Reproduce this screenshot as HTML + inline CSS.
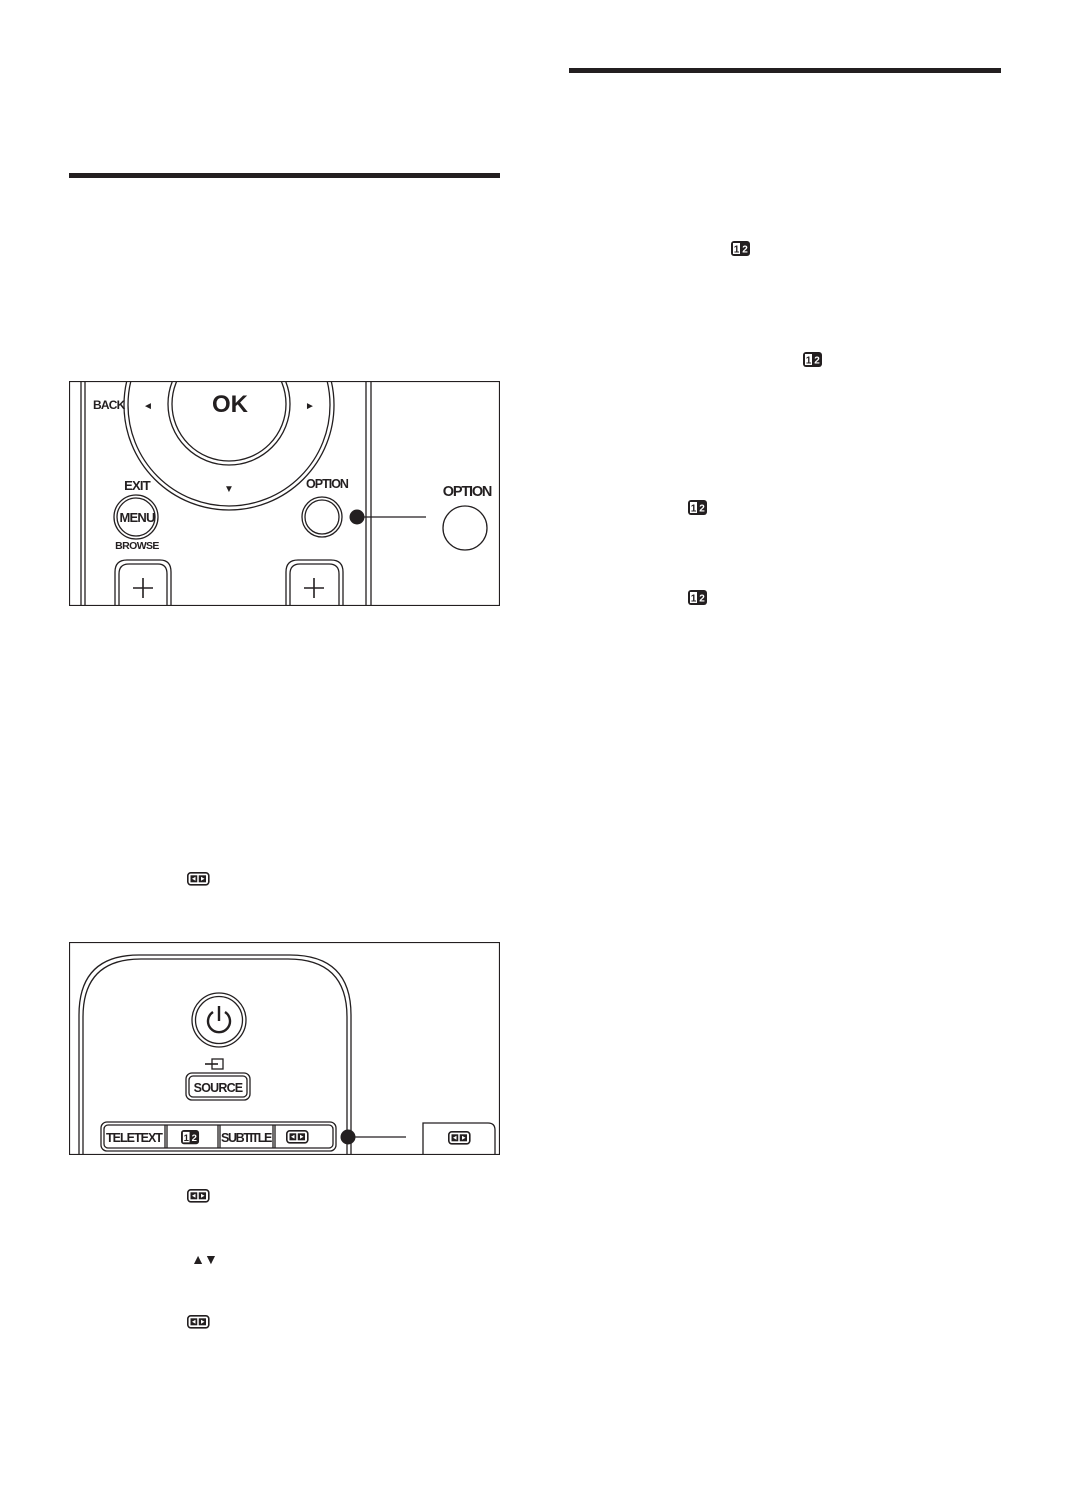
<!DOCTYPE html>
<html><head><meta charset="utf-8"><style>
html,body{margin:0;padding:0;background:#fff;}
svg{display:block;}
text{font-family:"Liberation Sans",sans-serif;fill:#231f20;}
</style></head><body>
<svg width="1068" height="1510" viewBox="0 0 1068 1510" xmlns="http://www.w3.org/2000/svg">
<defs>
<g id="i12">
<rect x="0" y="0" width="19" height="15" rx="3" fill="#231f20"/>
<rect x="2" y="2" width="7" height="11" fill="#fff"/>
<text x="5.5" y="11.5" font-size="10" text-anchor="middle" font-weight="bold">1</text>
<text x="14" y="11.5" font-size="10" text-anchor="middle" font-weight="bold" style="fill:#fff">2</text>
</g>
<g id="iw">
<rect x="0.8" y="0.8" width="21" height="12" rx="3" fill="none" stroke="#231f20" stroke-width="1.6"/>
<rect x="3.5" y="3.3" width="15.5" height="7" fill="#231f20"/>
<line x1="11" y1="3" x2="11" y2="11" stroke="#fff" stroke-width="1.5"/>
<path d="M5 6.8 L8.5 4.8 V8.8Z M17.5 6.8 L14 4.8 V8.8Z" fill="#fff"/>
</g>
</defs>

<rect x="69" y="173" width="431" height="5" fill="#231f20"/>
<rect x="569" y="68" width="432" height="5" fill="#231f20"/>

<!-- diagram 1 -->
<svg x="69" y="381" width="431" height="225" viewBox="69 381 431 225" overflow="hidden">
<g fill="none" stroke="#231f20" stroke-width="1.3">
<line x1="81" y1="381" x2="81" y2="606"/><line x1="85" y1="381" x2="85" y2="606"/>
<line x1="366" y1="381" x2="366" y2="606"/><line x1="371" y1="381" x2="371" y2="606"/>
<circle cx="229" cy="405" r="105"/><circle cx="229" cy="405" r="101"/>
<circle cx="229" cy="404" r="61"/><circle cx="229" cy="404" r="57"/>
<circle cx="136" cy="517" r="22"/><circle cx="136" cy="517" r="19"/>
<circle cx="322" cy="517" r="20"/><circle cx="322" cy="517" r="17"/>
<circle cx="465" cy="528" r="22"/>
<path d="M115 610 V572 Q115 560 127 560 H160 Q171 560 171 572 V610"/>
<path d="M119 610 V574 Q119 564 129 564 H158 Q167 564 167 574 V610"/>
<path d="M286 610 V572 Q286 560 298 560 H331 Q343 560 343 572 V610"/>
<path d="M290 610 V574 Q290 564 300 564 H329 Q339 564 339 574 V610"/>
<line x1="357" y1="517" x2="426" y2="517"/>
<line x1="133" y1="588" x2="153" y2="588" stroke-width="1.6"/>
<line x1="143" y1="578" x2="143" y2="598" stroke-width="1.6"/>
<line x1="304" y1="588" x2="324" y2="588" stroke-width="1.6"/>
<line x1="314" y1="578" x2="314" y2="598" stroke-width="1.6"/>
</g>
<rect x="69.5" y="381.5" width="430" height="224" fill="none" stroke="#231f20" stroke-width="1.2"/>
<circle cx="357" cy="517" r="7.5" fill="#231f20"/>
<text x="93" y="409" font-size="12" font-weight="bold" letter-spacing="-0.8">BACK</text>
<text x="148" y="409" font-size="10" text-anchor="middle">◄</text>
<text x="310" y="409" font-size="10" text-anchor="middle">►</text>
<text x="230" y="412" font-size="24" font-weight="bold" text-anchor="middle">OK</text>
<text x="229" y="492" font-size="10" text-anchor="middle">▼</text>
<text x="137" y="490" font-size="13" text-anchor="middle" letter-spacing="-0.8" font-weight="bold" style="font-weight:600">EXIT</text>
<text x="137" y="522" font-size="13" text-anchor="middle" font-weight="bold" letter-spacing="-0.8">MENU</text>
<text x="137" y="549" font-size="10.5" text-anchor="middle" font-weight="bold" letter-spacing="-0.6">BROWSE</text>
<text x="327" y="488" font-size="12.5" text-anchor="middle" letter-spacing="-1" font-weight="bold">OPTION</text>
<text x="467" y="496" font-size="14.5" text-anchor="middle" letter-spacing="-1.2" font-weight="bold">OPTION</text>
</svg>

<!-- diagram 2 -->
<svg x="69" y="942" width="431" height="213" viewBox="69 942 431 213" overflow="hidden">
<g fill="none" stroke="#231f20" stroke-width="1.3">
<path d="M79 1160 V1015 Q79 955 139 955 H290 Q351 955 351 1015 V1160"/>
<path d="M83 1160 V1017 Q83 959 141 959 H288 Q347 959 347 1017 V1160"/>
<circle cx="219" cy="1020" r="27"/><circle cx="219" cy="1020" r="23.5"/>
<path d="M213 1012 A11 11 0 1 0 225 1012" stroke-width="2.4"/>
<line x1="219" y1="1006" x2="219" y2="1021" stroke-width="2.4"/>
<rect x="186" y="1073" width="64" height="27" rx="6"/>
<rect x="189" y="1076" width="58" height="21" rx="4"/>
<rect x="101" y="1122" width="235" height="29" rx="6"/>
<rect x="104" y="1125" width="229" height="23" rx="4"/>
<line x1="165" y1="1125" x2="165" y2="1148"/><line x1="167" y1="1125" x2="167" y2="1148"/>
<line x1="218" y1="1125" x2="218" y2="1148"/><line x1="220" y1="1125" x2="220" y2="1148"/>
<line x1="273" y1="1125" x2="273" y2="1148"/><line x1="275" y1="1125" x2="275" y2="1148"/>
<line x1="348" y1="1137" x2="406" y2="1137"/>
<path d="M423 1160 V1123 H488 Q495 1123 495 1130 V1160"/>
<rect x="212" y="1059" width="11" height="10"/>
<line x1="205" y1="1064" x2="218" y2="1064" stroke-width="1.6"/>
</g>
<rect x="69.5" y="942.5" width="430" height="212" fill="none" stroke="#231f20" stroke-width="1.2"/>
<circle cx="348" cy="1137" r="7.5" fill="#231f20"/>
<text x="218" y="1092" font-size="12.5" text-anchor="middle" font-weight="bold" letter-spacing="-0.8">SOURCE</text>
<text x="134" y="1142" font-size="12.5" text-anchor="middle" font-weight="bold" letter-spacing="-1">TELETEXT</text>
<text x="246" y="1142" font-size="12.5" text-anchor="middle" font-weight="bold" letter-spacing="-1.4">SUBTITLE</text>
<use href="#i12" transform="translate(181 1130) scale(0.95)"/>
<use href="#iw" transform="translate(286 1130)"/>
<use href="#iw" transform="translate(448 1131)"/>
</svg>

<use href="#i12" x="731" y="241"/>
<use href="#i12" x="803" y="352"/>
<use href="#i12" x="688" y="500"/>
<use href="#i12" x="688" y="590"/>
<use href="#iw" x="187" y="872"/>
<use href="#iw" x="187" y="1189"/>
<use href="#iw" x="187" y="1315"/>
<text x="204" y="1264" font-size="14" text-anchor="middle" letter-spacing="-1">▲▼</text>
</svg>
</body></html>
